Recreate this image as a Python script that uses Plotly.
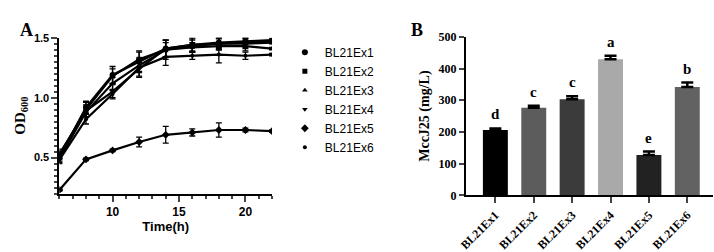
import plotly.graph_objects as go

# ---------- Panel A data ----------
time_h = [6, 8, 10, 12, 14, 16, 18, 20, 22]
strains = ["BL21Ex1", "BL21Ex2", "BL21Ex3", "BL21Ex4", "BL21Ex5", "BL21Ex6"]
od_ex1 = [0.50, 0.92, 1.19, 1.30, 1.41, 1.44, 1.46, 1.47, 1.48]
od_ex2 = [0.52, 0.90, 1.18, 1.32, 1.40, 1.43, 1.45, 1.46, 1.47]
od_ex3 = [0.49, 0.88, 1.12, 1.27, 1.40, 1.42, 1.43, 1.43, 1.41]
od_ex4 = [0.53, 0.89, 1.05, 1.24, 1.41, 1.44, 1.45, 1.45, 1.46]
od_ex5 = [0.23, 0.485, 0.56, 0.63, 0.69, 0.71, 0.73, 0.73, 0.72]
od_ex6 = [0.48, 0.82, 1.03, 1.25, 1.34, 1.35, 1.36, 1.35, 1.36]
sd_ex1 = [0.03, 0.05, 0.07, 0.08, 0.07, 0.05, 0.04, 0.03, 0.01]
sd_ex2 = [0.03, 0.06, 0.06, 0.07, 0.08, 0.05, 0.04, 0.04, 0.01]
sd_ex3 = [0.03, 0.04, 0.05, 0.06, 0.06, 0.04, 0.03, 0.04, 0.01]
sd_ex4 = [0.04, 0.05, 0.06, 0.07, 0.07, 0.06, 0.05, 0.04, 0.01]
sd_ex5 = [0.01, 0.01, 0.01, 0.04, 0.07, 0.03, 0.06, 0.015, 0.01]
sd_ex6 = [0.03, 0.04, 0.03, 0.07, 0.07, 0.03, 0.07, 0.03, 0.01]
symbols = ["circle", "square", "triangle-up", "triangle-down", "diamond", "circle"]
msizes = [6, 5, 5, 5, 6, 4]

# ---------- Panel B data ----------
mccj25 = [206, 276, 303, 429, 127, 342]
mccj25_sd = [5, 7, 10, 11, 11, 14]
sig_letters = ["d", "c", "c", "a", "e", "b"]
bar_colors = ["#000000", "#5c5c5c", "#3b3b3b", "#a9a9a9", "#222222", "#626262"]
b_yticks = [0, 100, 200, 300, 400, 500]

od_all = [od_ex1, od_ex2, od_ex3, od_ex4, od_ex5, od_ex6]
sd_all = [sd_ex1, sd_ex2, sd_ex3, sd_ex4, sd_ex5, sd_ex6]

W, H = 714, 252
fig = go.Figure()

sans = "Liberation Sans, Arial, sans-serif"
serif = "Liberation Serif, Times New Roman, serif"

for name, ys, sd in zip(strains, od_all, sd_all):
    fig.add_trace(go.Scatter(
        x=time_h, y=ys, mode="lines", showlegend=False,
        line=dict(color="black", width=2.2),
        error_y=dict(type="data", array=sd, color="black", thickness=1.3, width=3),
        xaxis="x", yaxis="y"))
for name, ys, sym, ms in zip(strains, od_all, symbols, msizes):
    fig.add_trace(go.Scatter(
        x=time_h, y=ys, mode="markers", name=name,
        marker=dict(symbol=sym, size=ms, color="black"),
        xaxis="x", yaxis="y"))

fig.add_trace(go.Bar(
    x=strains, y=mccj25, marker=dict(color=bar_colors, line=dict(width=0)),
    width=0.65, showlegend=False,
    error_y=dict(type="data", array=mccj25_sd, arrayminus=[0] * 6, symmetric=False,
                 color="black", thickness=2.5, width=6),
    xaxis="x2", yaxis="y2"))

annotations = []
for s, v, e, L in zip(strains, mccj25, mccj25_sd, sig_letters):
    annotations.append(dict(x=s, y=v + e, xref="x2", yref="y2", text="<b>" + L + "</b>", showarrow=False,
                            yanchor="bottom", yshift=4,
                            font=dict(family=serif, size=15, color="black")))
annotations.append(dict(x=10 / W, y=1 - 12 / H, xref="paper", yref="paper", text="<b>A</b>",
                        showarrow=False, font=dict(family=serif, size=18, color="black")))
annotations.append(dict(x=414 / W, y=1 - 12 / H, xref="paper", yref="paper", text="<b>B</b>",
                        showarrow=False, font=dict(family=serif, size=18, color="black")))

fig.update_layout(
    width=W, height=H, margin=dict(l=0, r=0, t=0, b=0),
    paper_bgcolor="white", plot_bgcolor="white",
    showlegend=True,
    legend=dict(x=280 / W, y=1 - 33 / H, xanchor="left", yanchor="top",
                font=dict(family=sans, size=12, color="black"),
                tracegroupgap=0, itemwidth=30, bgcolor="rgba(0,0,0,0)"),
    annotations=annotations,
    xaxis=dict(domain=[52 / W, 267 / W], range=[6, 22], anchor="y",
               tickvals=[10, 15, 20], ticks="outside", ticklen=6, tickwidth=1.5,
               minor=dict(dtick=1, ticks="outside", ticklen=3, tickwidth=1.5, tick0=6),
               showline=True, linecolor="black", linewidth=2, showgrid=False, zeroline=False,
               tickfont=dict(family=sans, size=12, color="black", weight="bold"),
               title=dict(text="<b>Time(h)</b>", font=dict(family=sans, size=13, color="black"),
                          standoff=4)),
    yaxis=dict(domain=[1 - 200 / H, 1 - 33 / H], range=[0.2, 1.5], anchor="x",
               tickvals=[0.5, 1.0, 1.5], ticktext=["0.5", "1.0", "1.5"],
               ticks="outside", ticklen=6, tickwidth=1.5,
               minor=dict(dtick=0.05, tick0=0.5, ticks="outside", ticklen=3, tickwidth=1.5),
               showline=True, linecolor="black", linewidth=2, showgrid=False, zeroline=False,
               tickfont=dict(family=sans, size=11, color="black", weight="bold"),
               title=dict(text="<b>OD<sub>600</sub></b>", font=dict(family=serif, size=15, color="black"),
                          standoff=5)),
    xaxis2=dict(domain=[463 / W, 713 / W], range=[-0.77, 5.67], anchor="y2",
                tickvals=strains, ticktext=["<b>" + s + "</b>" for s in strains],
                ticks="outside", ticklen=6, tickwidth=1.5, tickangle=-45,
                showline=True, linecolor="black", linewidth=2, showgrid=False, zeroline=False,
                tickfont=dict(family=serif, size=12, color="black")),
    yaxis2=dict(domain=[1 - 202 / H, 1 - 32 / H], range=[0, 500], anchor="x2",
                tickvals=b_yticks, ticktext=["<b>%d</b>" % t for t in b_yticks],
                ticks="outside", ticklen=5, tickwidth=1.5,
                showline=True, linecolor="black", linewidth=2, showgrid=False, zeroline=False,
                tickfont=dict(family=serif, size=12, color="black"),
                title=dict(text="<b>MccJ25 (mg/L)</b>", font=dict(family=serif, size=14, color="black"),
                           standoff=5)),
)

fig.write_html("out.html")
